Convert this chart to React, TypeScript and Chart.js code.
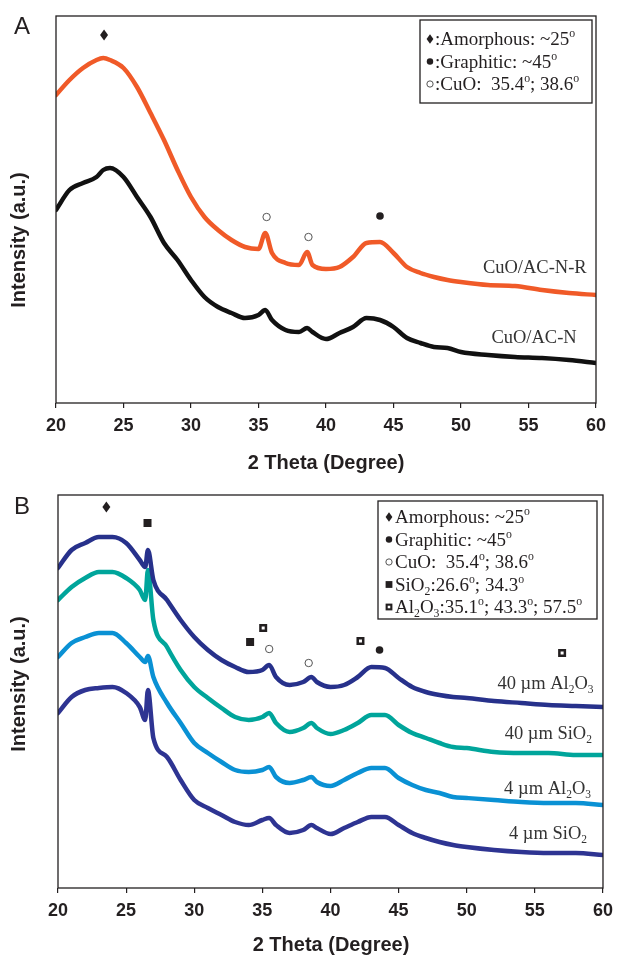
import React, { useEffect, useRef } from "react";
import { Chart, registerables } from "chart.js";

Chart.register(...registerables);

// ---------------- Panel A data (2θ in degrees, intensity in a.u.) ----------------
const thetaA = [20, 21, 22, 23, 23.5, 24, 25, 26, 27, 28, 29, 30, 31, 32, 33, 34, 35, 35.5, 36, 37, 38, 38.6, 39, 40, 41, 42, 43, 44, 45, 46, 47, 48, 49, 50, 52, 54, 56, 58, 60];
const cuoAcNR = [308, 323, 335, 343, 345, 343, 335, 316, 290, 263, 233, 206, 186, 173, 163, 156, 154, 170, 150, 140, 138, 151, 138, 134, 136, 146, 160, 161, 150, 136, 130, 126, 123, 121, 118, 117, 113, 110, 108];
const cuoAcN = [193, 213, 220, 226, 233, 235, 226, 206, 186, 160, 143, 123, 106, 96, 90, 85, 88, 93, 83, 73, 71, 75, 71, 64, 70, 76, 85, 83, 76, 65, 60, 56, 55, 51, 48, 46, 45, 43, 40];

// ---------------- Panel B data ----------------
const thetaB = [20, 21, 22, 23, 24, 25, 26, 26.4, 26.6, 27, 28, 29, 30, 31, 32, 33, 34, 35, 35.5, 36, 37, 38, 38.6, 39, 40, 41, 42, 43, 44, 45, 46, 47, 48, 49, 50, 52, 54, 56, 58, 60];
const al2o3_40 = [320, 338, 345, 351, 351, 345, 328, 321, 338, 308, 288, 268, 251, 238, 228, 221, 216, 218, 223, 211, 203, 206, 211, 206, 201, 203, 211, 221, 220, 210, 201, 196, 193, 191, 190, 187, 185, 183, 182, 181];
const sio2_40 = [288, 301, 310, 316, 316, 310, 298, 288, 318, 268, 241, 218, 201, 190, 180, 171, 168, 171, 175, 165, 156, 160, 165, 160, 154, 158, 165, 173, 173, 163, 155, 150, 145, 141, 140, 136, 135, 135, 133, 133];
const al2o3_4 = [231, 245, 251, 255, 255, 245, 231, 226, 232, 211, 185, 165, 145, 135, 126, 118, 116, 118, 121, 111, 105, 108, 111, 106, 102, 108, 115, 120, 120, 110, 103, 98, 95, 91, 90, 88, 86, 85, 85, 83];
const sio2_4 = [175, 191, 198, 200, 201, 195, 181, 168, 198, 150, 131, 108, 88, 80, 73, 66, 63, 68, 70, 63, 55, 58, 63, 60, 54, 60, 66, 71, 71, 63, 55, 50, 46, 43, 41, 38, 36, 35, 35, 33];

// peak markers (2θ, intensity)
const markersA = [
  { kind: "diamond", x: 23.56, y: 368 },
  { kind: "ring", x: 35.6, y: 186 },
  { kind: "ring", x: 38.7, y: 166 },
  { kind: "dot", x: 44.0, y: 187 },
];
const markersB = [
  { kind: "diamond", x: 23.55, y: 381 },
  { kind: "square", x: 26.57, y: 365 },
  { kind: "square", x: 34.1, y: 246 },
  { kind: "alsq", x: 35.06, y: 260 },
  { kind: "ring", x: 35.5, y: 239 },
  { kind: "ring", x: 38.4, y: 225 },
  { kind: "alsq", x: 42.2, y: 247 },
  { kind: "dot", x: 43.6, y: 238 },
  { kind: "alsq", x: 57.0, y: 235 },
];

type Seg = [string, number]; // 0 normal, 1 superscript, 2 subscript

// series name labels (anchored right, at 2θ / intensity)
const labelsA: { segs: Seg[]; x: number; y: number }[] = [
  { segs: [["CuO/AC-N-R", 0]], x: 59.31, y: 136 },
  { segs: [["CuO/AC-N", 0]], x: 58.57, y: 66 },
];
const labelsB: { segs: Seg[]; x: number; y: number }[] = [
  { segs: [["40 µm Al", 0], ["2", 2], ["O", 0], ["3", 2]], x: 59.31, y: 205 },
  { segs: [["40 µm SiO", 0], ["2", 2]], x: 59.19, y: 155 },
  { segs: [["4 µm Al", 0], ["2", 2], ["O", 0], ["3", 2]], x: 59.12, y: 100 },
  { segs: [["4 µm SiO", 0], ["2", 2]], x: 58.83, y: 55 },
];

const legendA: { sym: string; segs: Seg[] }[] = [
  { sym: "diamond", segs: [[":Amorphous: ~25", 0], ["o", 1]] },
  { sym: "dot", segs: [[":Graphitic: ~45", 0], ["o", 1]] },
  { sym: "ring", segs: [[":CuO:  35.4", 0], ["o", 1], ["; 38.6", 0], ["o", 1]] },
];
const legendB: { sym: string; segs: Seg[] }[] = [
  { sym: "diamond", segs: [["Amorphous: ~25", 0], ["o", 1]] },
  { sym: "dot", segs: [["Graphitic: ~45", 0], ["o", 1]] },
  { sym: "ring", segs: [["CuO:  35.4", 0], ["o", 1], ["; 38.6", 0], ["o", 1]] },
  { sym: "square", segs: [["SiO", 0], ["2", 2], [":26.6", 0], ["o", 1], ["; 34.3", 0], ["o", 1]] },
  { sym: "alsq", segs: [["Al", 0], ["2", 2], ["O", 0], ["3", 2], [":35.1", 0], ["o", 1], ["; 43.3", 0], ["o", 1], ["; 57.5", 0], ["o", 1]] },
];

const INK = "#231f20";
const SANS = '"Liberation Sans", Arial, Helvetica, sans-serif';
const SERIF = '"Liberation Serif", "Times New Roman", Times, serif';

function drawRich(ctx: CanvasRenderingContext2D, segs: Seg[], x: number, y: number, align: string, size: number, color: string) {
  ctx.save();
  ctx.fillStyle = color;
  ctx.textBaseline = "alphabetic";
  ctx.textAlign = "left";
  const widths = segs.map(([t, m]) => {
    ctx.font = `${m ? size * 0.62 : size}px ${SERIF}`;
    return ctx.measureText(t).width;
  });
  const total = widths.reduce((a, b) => a + b, 0);
  let cx = align === "right" ? x - total : align === "center" ? x - total / 2 : x;
  const base = y + size * 0.33;
  segs.forEach(([t, m], i) => {
    ctx.font = `${m ? size * 0.62 : size}px ${SERIF}`;
    const dy = m === 1 ? -size * 0.42 : m === 2 ? size * 0.22 : 0;
    ctx.fillText(t, cx, base + dy);
    cx += widths[i];
  });
  ctx.restore();
}

function drawSymbol(ctx: CanvasRenderingContext2D, kind: string, x: number, y: number, s = 1) {
  ctx.save();
  ctx.fillStyle = INK;
  ctx.strokeStyle = "#555";
  ctx.lineWidth = 1;
  if (kind === "diamond") {
    ctx.beginPath();
    ctx.moveTo(x, y - 5.5 * s);
    ctx.lineTo(x + 4 * s, y);
    ctx.lineTo(x, y + 5.5 * s);
    ctx.lineTo(x - 4 * s, y);
    ctx.closePath();
    ctx.fill();
  } else if (kind === "dot") {
    ctx.beginPath();
    ctx.arc(x, y, 3.8 * s, 0, Math.PI * 2);
    ctx.fill();
  } else if (kind === "ring") {
    ctx.beginPath();
    ctx.arc(x, y, 3.7 * s, 0, Math.PI * 2);
    ctx.fillStyle = "#fff";
    ctx.fill();
    ctx.stroke();
  } else if (kind === "square") {
    ctx.fillRect(x - 4 * s, y - 4 * s, 8 * s, 8 * s);
  } else if (kind === "alsq") {
    ctx.fillRect(x - 4 * s, y - 4 * s, 8 * s, 8 * s);
    ctx.fillStyle = "#fff";
    ctx.fillRect(x - 1.5 * s, y - 1.5 * s, 3 * s, 3 * s);
  }
  ctx.restore();
}

type PanelProps = {
  height: number;
  theta: number[];
  series: { values: number[]; color: string }[];
  yMax: number;
  pad: { left: number; top: number; right: number };
  xAxisHeight: number;
  markers: { kind: string; x: number; y: number }[];
  labels: { segs: Seg[]; x: number; y: number }[];
  legend: { sym: string; segs: Seg[] }[];
  legendBox: { x: number; y: number; w: number; h: number; first: number; gap: number; symX: number; textX: number; symScale: number };
  letter: string;
  letterPos: [number, number];
  xTitlePos: [number, number];
  yTitlePos: [number, number];
};

function Panel(p: PanelProps) {
  const ref = useRef<HTMLCanvasElement | null>(null);
  useEffect(() => {
    if (!ref.current) return;
    const decor = {
      id: "decor",
      afterDatasetsDraw(chart: any) {
        const ctx: CanvasRenderingContext2D = chart.ctx;
        const a = chart.chartArea;
        const xs = chart.scales.x;
        const ys = chart.scales.y;
        ctx.save();
        // frame
        ctx.strokeStyle = INK;
        ctx.lineWidth = 1.3;
        ctx.strokeRect(a.left, a.top, a.right - a.left, a.bottom - a.top);
        // markers
        p.markers.forEach((m) => drawSymbol(ctx, m.kind, xs.getPixelForValue(m.x), ys.getPixelForValue(m.y)));
        // series labels
        p.labels.forEach((l) => drawRich(ctx, l.segs, xs.getPixelForValue(l.x), ys.getPixelForValue(l.y), "right", 18.5, "#333"));
        // legend
        const b = p.legendBox;
        ctx.fillStyle = "#fff";
        ctx.fillRect(b.x, b.y, b.w, b.h);
        ctx.strokeStyle = INK;
        ctx.lineWidth = 1.3;
        ctx.strokeRect(b.x, b.y, b.w, b.h);
        p.legend.forEach((e, i) => {
          const ly = b.y + b.first + i * b.gap;
          drawSymbol(ctx, e.sym, b.symX, ly, b.symScale);
          drawRich(ctx, e.segs, b.textX, ly, "left", 19, INK);
        });
        // panel letter
        ctx.fillStyle = INK;
        ctx.font = `24px ${SANS}`;
        ctx.textAlign = "center";
        ctx.textBaseline = "middle";
        ctx.fillText(p.letter, p.letterPos[0], p.letterPos[1]);
        // axis titles
        ctx.font = `bold 20px ${SANS}`;
        ctx.fillText("2 Theta (Degree)", p.xTitlePos[0], p.xTitlePos[1]);
        ctx.save();
        ctx.translate(p.yTitlePos[0], p.yTitlePos[1]);
        ctx.rotate(-Math.PI / 2);
        ctx.fillText("Intensity (a.u.)", 0, 0);
        ctx.restore();
        ctx.restore();
      },
    };
    const chart = new Chart(ref.current, {
      type: "line",
      data: {
        datasets: p.series.map((s) => ({
          data: p.theta.map((x, i) => ({ x, y: s.values[i] })),
          borderColor: s.color,
          backgroundColor: s.color,
          borderWidth: 4.5,
          borderCapStyle: "round",
          borderJoinStyle: "round",
          pointRadius: 0,
          tension: 0.2,
          cubicInterpolationMode: "monotone" as const,
          fill: false,
        })),
      },
      options: {
        animation: false,
        responsive: false,
        devicePixelRatio: 1,
        layout: { padding: { left: p.pad.left, top: p.pad.top, right: p.pad.right, bottom: 0 } },
        plugins: { legend: { display: false }, tooltip: { enabled: false }, title: { display: false } },
        scales: {
          x: {
            type: "linear",
            min: 20,
            max: 60,
            ticks: {
              stepSize: 5,
              color: INK,
              font: { family: SANS, size: 18, weight: "bold" },
              padding: 7,
              maxRotation: 0,
              autoSkip: false,
            },
            grid: { display: true, drawOnChartArea: false, drawTicks: true, tickLength: 5, color: INK, lineWidth: 1.2 },
            border: { display: false },
            afterFit: (s: any) => {
              s.height = p.xAxisHeight;
            },
          },
          y: { display: false, min: 0, max: p.yMax },
        },
      } as any,
      plugins: [decor],
    });
    return () => chart.destroy();
  }, []);
  return <canvas ref={ref} width={620} height={p.height} style={{ display: "block", width: 620, height: p.height }} />;
}

export default function App() {
  return (
    <div style={{ position: "fixed", left: 0, top: 0, width: 620, height: 958, background: "#fff" }}>
      <Panel
        height={480}
        theta={thetaA}
        series={[
          { values: cuoAcNR, color: "#f05a28" },
          { values: cuoAcN, color: "#111111" },
        ]}
        yMax={387}
        pad={{ left: 56, top: 16, right: 24 }}
        xAxisHeight={77}
        markers={markersA}
        labels={labelsA}
        legend={legendA}
        legendBox={{ x: 420, y: 20, w: 172, h: 83, first: 19, gap: 22.5, symX: 430, textX: 435, symScale: 0.85 }}
        letter="A"
        letterPos={[22, 27]}
        xTitlePos={[326, 463]}
        yTitlePos={[19, 240]}
      />
      <Panel
        height={478}
        theta={thetaB}
        series={[
          { values: al2o3_40, color: "#27318b" },
          { values: sio2_40, color: "#00a59b" },
          { values: al2o3_4, color: "#0a91d4" },
          { values: sio2_4, color: "#2e3492" },
        ]}
        yMax={393}
        pad={{ left: 58, top: 15, right: 14 }}
        xAxisHeight={70}
        markers={markersB}
        labels={labelsB}
        legend={legendB}
        legendBox={{ x: 378, y: 21, w: 219, h: 118, first: 16, gap: 22.5, symX: 389, textX: 395, symScale: 0.85 }}
        letter="B"
        letterPos={[22, 27]}
        xTitlePos={[331, 465]}
        yTitlePos={[19, 204]}
      />
    </div>
  );
}
